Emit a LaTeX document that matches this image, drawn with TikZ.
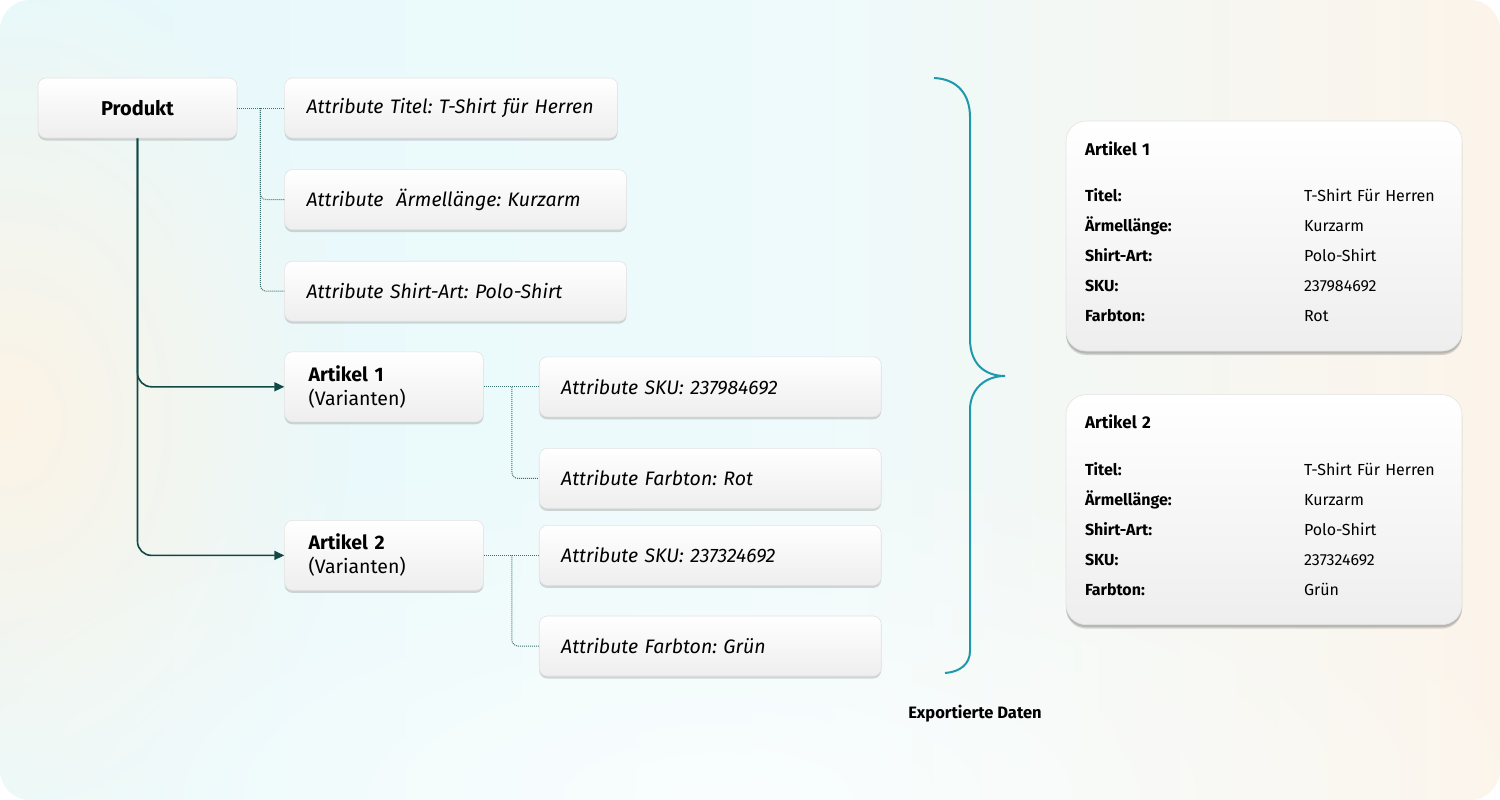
\documentclass[tikz,border=0pt]{standalone}
\usepackage{fontspec}
\setmainfont[Numbers=Lining]{Fira Sans}
\usetikzlibrary{arrows.meta,positioning,shadows,fadings}
\definecolor{dunkelgruen}{RGB}{16,72,68}
\definecolor{punktlinie}{RGB}{62,112,112}
\definecolor{klammerblau}{RGB}{30,152,172}
\definecolor{hgcyan}{RGB}{231,249,251}
\definecolor{hgmitte}{RGB}{238,250,251}
\definecolor{hgpfirsich}{RGB}{252,244,234}
\definecolor{hgblob}{RGB}{252,243,230}
\definecolor{rahmen}{RGB}{226,226,226}
\definecolor{boxunten}{RGB}{238,238,238}
\renewcommand{\arraystretch}{1.5}
\frenchspacing
\tikzfading[name=weichrand,inner color=transparent!0,outer color=transparent!100]
\pgfdeclarehorizontalshading{hintergrund}{100bp}{color(0bp)=(hgcyan); color(25bp)=(hgcyan);
  color(52bp)=(hgmitte); color(75bp)=(hgpfirsich); color(100bp)=(hgpfirsich)}

\begin{document}
\begin{tikzpicture}[x=1pt,y=-1pt,
  kasten/.style={draw=rahmen,line width=0.6pt,rounded corners=8pt,top color=white,bottom color=boxunten,
    drop shadow={shadow xshift=0pt,shadow yshift=-2.5pt,opacity=0.25,fill=black!60}},
  attr/.style={kasten,minimum height=60pt,inner xsep=22pt,text width=298pt,align=left,
    font=\itshape\fontsize{19.5}{23}\selectfont},
  artikel/.style={kasten,minimum width=199pt,minimum height=70pt,inner xsep=24pt,text width=151pt,
    align=left,font=\fontsize{19.5}{24}\selectfont},
  karte/.style={kasten,rounded corners=20pt,minimum width=396pt,minimum height=230pt,inner xsep=19pt,
    text width=358pt,align=left,font=\fontsize{16}{20}\selectfont,
    drop shadow={shadow xshift=0pt,shadow yshift=-4pt,opacity=0.25,fill=black!60}},
  punkt/.style={draw=punktlinie,densely dotted,line width=1pt},
  pfeil/.style={draw=dunkelgruen,line width=1.6pt,rounded corners=14pt,-{Triangle[length=10pt,width=9pt]}}]

  % Hintergrund
  \useasboundingbox (0,0) rectangle (1500,800);
  \shade[shading=hintergrund,rounded corners=30pt] (0,0) rectangle (1500,800);
  \begin{scope}
    \clip[rounded corners=30pt] (0,0) rectangle (1500,800);
    \fill[hgblob,path fading=weichrand] (10,420) ellipse (340pt and 460pt);
    \fill[white,path fading=weichrand,fill opacity=0.7] (720,800) ellipse (900pt and 360pt);
  \end{scope}

  % Produkt und Attribute
  \node[kasten,minimum width=199pt,minimum height=60pt,font=\bfseries\fontsize{20}{24}\selectfont] (prod) at (137.5,108) {Produkt};
  \node[attr,text width=289pt,right=47pt of prod] (titel) {Attribute Titel: T-Shirt für Herren};
  \node[attr,below right=31pt and 0pt of titel.south west] (aermel) {Attribute~ Ärmellänge: Kurzarm};
  \node[attr,below=31pt of aermel] (shirtart) {Attribute Shirt-Art: Polo-Shirt};

  % Varianten
  \node[artikel,below right=30pt and 0pt of shirtart.south west] (art1) {\textbf{Artikel 1}\\(Varianten)};
  \node[artikel,below=98pt of art1] (art2) {\textbf{Artikel 2}\\(Varianten)};
  \node[attr,right=55pt of art1] (sku1) {Attribute SKU: 237984692};
  \node[attr,below=31pt of sku1] (farbe1) {Attribute Farbton: Rot};
  \node[attr,right=55pt of art2] (sku2) {Attribute SKU: 237324692};
  \node[attr,below=30pt of sku2] (farbe2) {Attribute Farbton: Grün};

  % Verbindungen
  \coordinate[right=23pt of prod.east] (pj);
  \draw[punkt] (prod.east) -- (titel.west);
  \draw[punkt,rounded corners=6pt] (pj) |- (aermel.west);
  \draw[punkt,rounded corners=6pt] (pj) |- (shirtart.west);
  \coordinate[right=28pt of art1.east] (aj1);
  \draw[punkt] (art1.east) -- (sku1.west);
  \draw[punkt,rounded corners=6pt] (aj1) |- (farbe1.west);
  \coordinate[right=28pt of art2.east] (aj2);
  \draw[punkt] (art2.east) -- (sku2.west);
  \draw[punkt,rounded corners=6pt] (aj2) |- (farbe2.west);
  \draw[pfeil] (prod.south) |- (art1.west);
  \draw[pfeil] (prod.south) |- (art2.west);

  % Klammer
  \draw[draw=klammerblau,line width=2pt] (934,78) .. controls (958,79) and (970,95) .. (970,117) -- (970,339)
    .. controls (970,364) and (985,376) .. (1005,376) .. controls (985,376) and (970,389) .. (970,410)
    -- (970,651) .. controls (970,664) and (960,672) .. (945,673);
  \node[font=\bfseries\fontsize{16.5}{20}\selectfont] (export) at (975,714) {Exportierte Daten};

  % Exportierte Artikel
  \node[karte] (karte1) at (1264,236) {{\fontsize{17}{20}\selectfont\textbf{Artikel 1}}\\[24pt]
    \begin{tabular}{@{}p{219pt}@{}l@{}}
      \textbf{Titel:} & T-Shirt Für Herren\\
      \textbf{Ärmellänge:} & Kurzarm\\
      \textbf{Shirt-Art:} & Polo-Shirt\\
      \textbf{SKU:} & 237984692\\
      \textbf{Farbton:} & Rot
    \end{tabular}};
  \node[karte,below=43pt of karte1] (karte2) {{\fontsize{17}{20}\selectfont\textbf{Artikel 2}}\\[24pt]
    \begin{tabular}{@{}p{219pt}@{}l@{}}
      \textbf{Titel:} & T-Shirt Für Herren\\
      \textbf{Ärmellänge:} & Kurzarm\\
      \textbf{Shirt-Art:} & Polo-Shirt\\
      \textbf{SKU:} & 237324692\\
      \textbf{Farbton:} & Grün
    \end{tabular}};
\end{tikzpicture}
\end{document}
